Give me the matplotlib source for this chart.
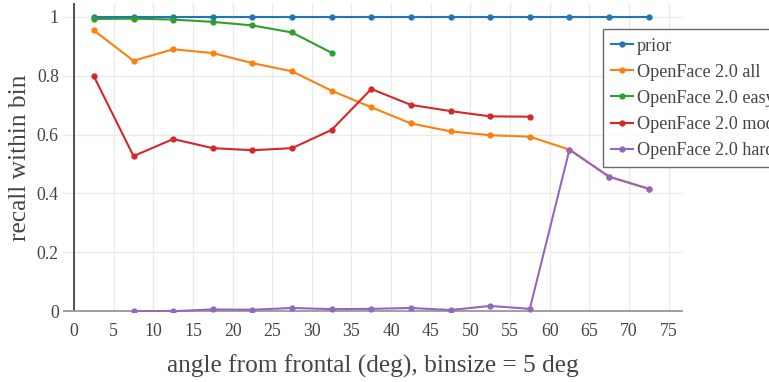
import numpy as np
import matplotlib.pyplot as plt

plt.rcParams['font.family'] = ['Liberation Serif', 'DejaVu Serif']

# bin centres (deg)
angles = [2.5, 7.5, 12.5, 17.5, 22.5, 27.5, 32.5, 37.5, 42.5, 47.5, 52.5, 57.5, 62.5, 67.5, 72.5]

prior = [1.0] * 15
of_all = [0.954, 0.851, 0.890, 0.877, 0.843, 0.815, 0.749, 0.693, 0.638, 0.611, 0.598, 0.593, 0.549, 0.457, 0.416]
of_easy = [0.993, 0.994, 0.991, 0.983, 0.971, 0.947, 0.878]
of_mod = [0.798, 0.527, 0.585, 0.554, 0.547, 0.554, 0.616, 0.755, 0.701, 0.680, 0.662, 0.661]
hard_angles = angles[1:]
of_hard = [0.0, 0.0, 0.006, 0.005, 0.011, 0.007, 0.008, 0.011, 0.004, 0.018, 0.008, 0.549, 0.457, 0.416]

series = [
    (angles, prior, 'prior', '#1f77b4'),
    (angles, of_all, 'OpenFace 2.0 all', '#ff7f0e'),
    (angles[:len(of_easy)], of_easy, 'OpenFace 2.0 easy', '#2ca02c'),
    (angles[:len(of_mod)], of_mod, 'OpenFace 2.0 mod', '#d62728'),
    (hard_angles, of_hard, 'OpenFace 2.0 hard', '#9467bd'),
]

fig = plt.figure(figsize=(7.69, 3.82), dpi=100)
ax = fig.add_axes([0.0819, 0.183, 0.806, 0.809])

for x, y, name, c in series:
    ax.plot(x, y, '-o', color=c, lw=1.5, ms=3.5, label=name, zorder=3)

ax.set_xlim(-1.4, 76.8)
ax.set_ylim(-0.003, 1.047)
ax.set_xticks(np.arange(0, 80, 5))
ax.set_yticks([0, 0.2, 0.4, 0.6, 0.8, 1.0])
ax.set_yticklabels(['0', '0.2', '0.4', '0.6', '0.8', '1'])
ax.grid(True, color='#ebebeb', lw=1)
ax.set_axisbelow(True)
for s in ax.spines.values():
    s.set_visible(False)
ax.axvline(0, color='#444444', lw=1.3, zorder=2)
ax.axhline(0, color='#9a9a9a', lw=1.3, zorder=2)
ax.tick_params(length=0, labelsize=12.8, colors='#444444')
ax.tick_params(axis='x', pad=8)
ax.tick_params(axis='y', pad=3)

ax.set_xlabel('angle from frontal (deg), binsize = 5 deg', fontsize=18.3, color='#444444', labelpad=10)
ax.set_ylabel('recall within bin', fontsize=18.3, color='#444444', labelpad=4)

# legend sticks out past the right edge, as in the original
leg = fig.legend(loc='upper left', bbox_to_anchor=(0.784, 0.923), fontsize=13.1,
                 frameon=True, fancybox=False, handlelength=1.2, handletextpad=0.2,
                 labelspacing=0.5, borderpad=0.45, borderaxespad=0)
leg.get_frame().set_edgecolor('#444444')
leg.get_frame().set_linewidth(1.0)
for t in leg.get_texts():
    t.set_color('#444444')

fig.savefig('out.png', dpi=100)
